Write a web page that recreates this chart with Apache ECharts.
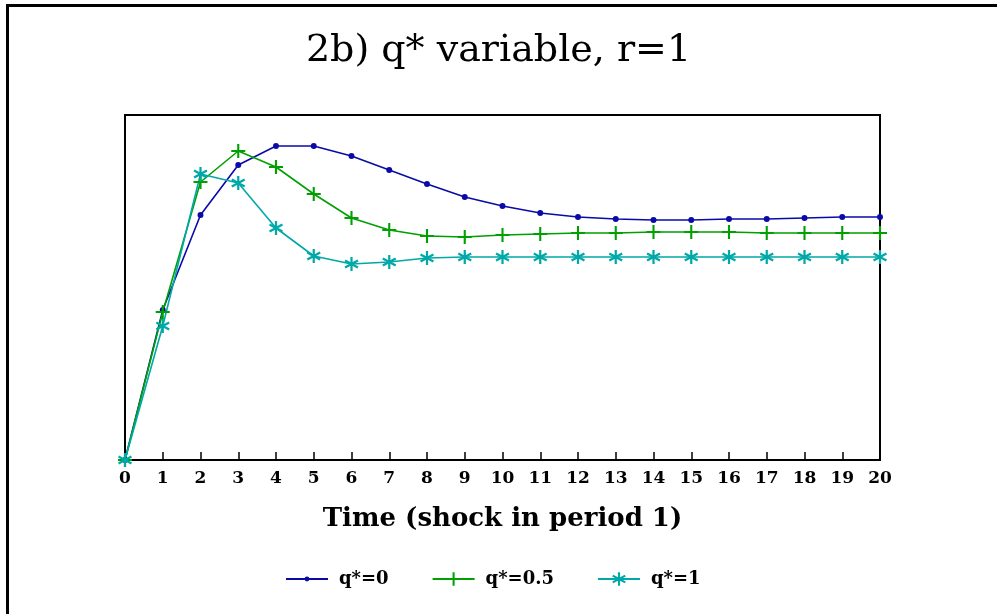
<!DOCTYPE html>
<html>
<head>
<meta charset="utf-8">
<script src="https://cdn.jsdelivr.net/npm/echarts@6/dist/echarts.min.js"></script>
<style>
html,body{margin:0;padding:0;background:#fff;}
#chart{width:997px;height:614px;}
</style>
</head>
<body>
<div id="chart"></div>
<script>
var periods = ['0','1','2','3','4','5','6','7','8','9','10','11','12','13','14','15','16','17','18','19','20'];
var seriesNames = ['q*=0', 'q*=0.5', 'q*=1'];
var q0 = [0, 1.50, 2.45, 2.95, 3.14, 3.14, 3.04, 2.90, 2.76, 2.63, 2.54, 2.47, 2.43, 2.41, 2.40, 2.40, 2.41, 2.41, 2.42, 2.43, 2.43];
var q05 = [0, 1.48, 2.78, 3.09, 2.93, 2.66, 2.42, 2.30, 2.24, 2.23, 2.25, 2.26, 2.27, 2.27, 2.28, 2.28, 2.28, 2.27, 2.27, 2.27, 2.27];
var q1 = [0, 1.34, 2.86, 2.77, 2.32, 2.04, 1.96, 1.98, 2.02, 2.03, 2.03, 2.03, 2.03, 2.03, 2.03, 2.03, 2.03, 2.03, 2.03, 2.03, 2.03];

var dotPath = 'path://M0,0L0,0M20,20L20,20M13.5,10A3.5,3.5 0 1 1 6.5,10A3.5,3.5 0 1 1 13.5,10Z';
var plusPath = 'path://M8.5,0H11.5V8.5H20V11.5H11.5V20H8.5V11.5H0V8.5H8.5Z';
var starPath = 'path://M8.5,0L11.5,0L11.5,20L8.5,20Z' +
  'M0.59,6.3L2.09,3.7L19.41,13.7L17.91,16.3Z' +
  'M2.09,16.3L0.59,13.7L17.91,3.7L19.41,6.3Z';

var chart = echarts.init(document.getElementById('chart'));
var serif = 'DejaVu Serif';
chart.setOption({
  animation: false,
  backgroundColor: '#fff',
  title: {
    text: '2b) q* variable, r=1',
    left: 'center',
    top: 27,
    textStyle: {fontFamily: serif, fontSize: 38, fontWeight: 'normal', color: '#000'}
  },
  graphic: [{
    type: 'polyline',
    shape: {points: [[7.5, 620], [7.5, 5.5], [1000, 5.5]]},
    style: {stroke: '#000', lineWidth: 3, fill: null}
  }],
  legend: {
    top: 570,
    left: 285,
    padding: 0,
    itemWidth: 42,
    itemHeight: 17,
    itemGap: 43,
    textStyle: {fontFamily: serif, fontSize: 18, fontWeight: 'bold', color: '#000', padding: [0, 0, 0, 6]},
    data: seriesNames
  },
  grid: {
    left: 125, right: 117, top: 115, bottom: 154,
    show: true, borderColor: '#000', borderWidth: 2, backgroundColor: 'transparent'
  },
  xAxis: {
    type: 'category',
    data: periods,
    boundaryGap: false,
    axisLine: {lineStyle: {color: '#000', width: 2}},
    axisTick: {inside: true, length: 8, lineStyle: {color: '#000', width: 1.5}},
    axisLabel: {margin: 10, fontFamily: serif, fontSize: 17, fontWeight: 'bold', color: '#000'},
    name: 'Time (shock in period 1)',
    nameLocation: 'middle',
    nameGap: 46,
    nameTextStyle: {fontFamily: serif, fontSize: 26, fontWeight: 'bold', color: '#000'}
  },
  yAxis: {
    type: 'value',
    min: 0, max: 3.45,
    show: false,
    splitLine: {show: false}
  },
  series: [
    {
      name: seriesNames[0], type: 'line', data: q0,
      symbol: dotPath, symbolSize: 17,
      lineStyle: {color: '#0a0aa8', width: 1.6},
      itemStyle: {color: '#0a0aa8'}
    },
    {
      name: seriesNames[1], type: 'line', data: q05,
      symbol: plusPath, symbolSize: 14,
      lineStyle: {color: '#00a000', width: 1.6},
      itemStyle: {color: '#00a000'}
    },
    {
      name: seriesNames[2], type: 'line', data: q1,
      symbol: starPath, symbolSize: 14,
      lineStyle: {color: '#00a8a8', width: 1.6},
      itemStyle: {color: '#00a8a8'}
    }
  ]
});
</script>
</body>
</html>
